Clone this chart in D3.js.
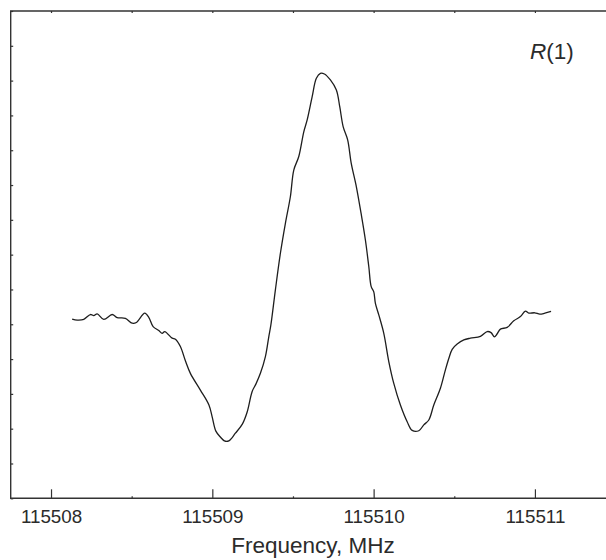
<!DOCTYPE html>
<html>
<head>
<meta charset="utf-8">
<script src="https://cdn.jsdelivr.net/npm/d3@7"></script>
<style>
  html, body { margin: 0; padding: 0; background: #fff; }
  svg { display: block; }
  text { font-family: "Liberation Sans", Arial, sans-serif; fill: #2b2b2b; }
</style>
</head>
<body>
<svg id="chart" width="606" height="560"></svg>
<script>
// Line spectrum of the R(1) transition: frequency (MHz) vs. signal (arb. units)
const freq = [
  115508.131, 115508.162, 115508.203, 115508.244, 115508.265, 115508.286, 115508.327, 115508.379,
  115508.410, 115508.461, 115508.503, 115508.529, 115508.581, 115508.606, 115508.633, 115508.668,
  115508.689, 115508.705, 115508.751, 115508.771, 115508.802, 115508.833, 115508.864, 115508.926,
  115508.979, 115508.999, 115509.022, 115509.050, 115509.075, 115509.102, 115509.143, 115509.187,
  115509.216, 115509.247, 115509.270, 115509.298, 115509.329, 115509.350, 115509.363, 115509.391,
  115509.422, 115509.453, 115509.484, 115509.505, 115509.536, 115509.567, 115509.588, 115509.619,
  115509.645, 115509.670, 115509.695, 115509.732, 115509.769, 115509.790, 115509.811, 115509.839,
  115509.861, 115509.893, 115509.922, 115509.949, 115509.970, 115509.985, 115510.001, 115510.011,
  115510.032, 115510.063, 115510.094, 115510.125, 115510.166, 115510.208, 115510.239, 115510.280,
  115510.311, 115510.342, 115510.373, 115510.414, 115510.445, 115510.467, 115510.487, 115510.518,
  115510.559, 115510.600, 115510.662, 115510.704, 115510.728, 115510.749, 115510.765, 115510.786,
  115510.828, 115510.869, 115510.910, 115510.941, 115510.962, 115510.999, 115511.030, 115511.062,
  115511.100
];
const signal = [
  5.15, 5.12, 5.14, 5.28, 5.25, 5.30, 5.14, 5.28,
  5.19, 5.17, 5.03, 5.05, 5.32, 5.20, 4.93, 4.82,
  4.74, 4.79, 4.60, 4.57, 4.36, 3.95, 3.59, 3.11,
  2.68, 2.34, 1.93, 1.76, 1.65, 1.65, 1.87, 2.14,
  2.48, 3.07, 3.28, 3.59, 4.07, 4.64, 4.98, 5.99,
  7.04, 7.90, 8.67, 9.43, 9.82, 10.53, 10.87, 11.54,
  12.07, 12.21, 12.19, 12.02, 11.73, 11.25, 10.68, 10.30,
  9.63, 8.95, 8.19, 7.42, 6.66, 6.08, 5.93, 5.60,
  5.27, 4.74, 3.93, 3.30, 2.68, 2.20, 1.95, 1.94,
  2.11, 2.25, 2.68, 3.16, 3.69, 4.03, 4.28, 4.43,
  4.55, 4.60, 4.65, 4.79, 4.76, 4.64, 4.72, 4.86,
  4.91, 5.10, 5.22, 5.38, 5.32, 5.33, 5.29, 5.32,
  5.37
];
const majorTicks = [115508, 115509, 115510, 115511];
const minorTicks = [115507.5, 115508.5, 115509.5, 115510.5, 115511.5];
const yTicks = d3.range(0, 15);
const xLabel = "Frequency, MHz";
const lineLabel = "R";
const lineLabelRest = "(1)";

const svg = d3.select("#chart");
const plotLeft = 10.7, plotTop = 11, plotBottom = 498.3;
const pxPerMHz = 161.3;

const x = d3.scaleLinear()
  .domain([115507.75, 115511.5])
  .range([plotLeft, plotLeft + 3.75 * pxPerMHz]);
const y = d3.scaleLinear().domain([0, 14]).range([plotBottom, plotTop]);

const frameColor = "#333";

// Inward ticks along the bottom: labelled majors and short minors
const gBottom = svg.append("g").attr("transform", `translate(0,${plotBottom})`);
gBottom.call(d3.axisBottom(x).tickValues(majorTicks).tickSize(-9).tickPadding(11)
  .tickFormat(d3.format("d")));
gBottom.append("g").call(d3.axisBottom(x).tickValues(minorTicks).tickSize(-2).tickFormat(""));
gBottom.selectAll(".domain").remove();
gBottom.selectAll("text").style("font-size", "18.8px").attr("fill", "#2b2b2b");

// Top edge ticks
const gTop = svg.append("g").attr("transform", `translate(0,${plotTop})`);
gTop.call(d3.axisTop(x).tickValues(majorTicks.concat(minorTicks)).tickSize(-2).tickFormat(""));
gTop.selectAll(".domain").remove();

// Left edge ticks, no labels
const gLeft = svg.append("g").attr("transform", `translate(${plotLeft},0)`);
gLeft.call(d3.axisLeft(y).tickValues(yTicks).tickSize(-2.5).tickFormat(""));
gLeft.selectAll(".domain").remove();

svg.selectAll(".tick line").attr("stroke", frameColor).attr("stroke-width", 1.2);

// Frame (right side runs past the edge)
svg.append("path")
  .attr("d", `M${x.range()[1] + 10},${plotTop} H${plotLeft} V${plotBottom} H${x.range()[1] + 10}`)
  .attr("fill", "none")
  .attr("stroke", frameColor)
  .attr("stroke-width", 1.4);

// Spectrum trace
const pts = freq.map((f, i) => [f, signal[i]]);
svg.append("path")
  .datum(pts)
  .attr("fill", "none")
  .attr("stroke", "#1e1e1e")
  .attr("stroke-width", 1.3)
  .attr("stroke-linejoin", "round")
  .attr("d", d3.line().x(d => x(d[0])).y(d => y(d[1])).curve(d3.curveCatmullRom.alpha(0.5)));

// Axis title
svg.append("text")
  .attr("x", 313).attr("y", 553)
  .attr("text-anchor", "middle")
  .style("font-size", "22.5px")
  .text(xLabel);

// Transition label
const lbl = svg.append("text")
  .attr("x", 530).attr("y", 59)
  .style("font-size", "22.5px");
lbl.append("tspan").style("font-style", "italic").text(lineLabel);
lbl.append("tspan").text(lineLabelRest);
</script>
</body>
</html>
